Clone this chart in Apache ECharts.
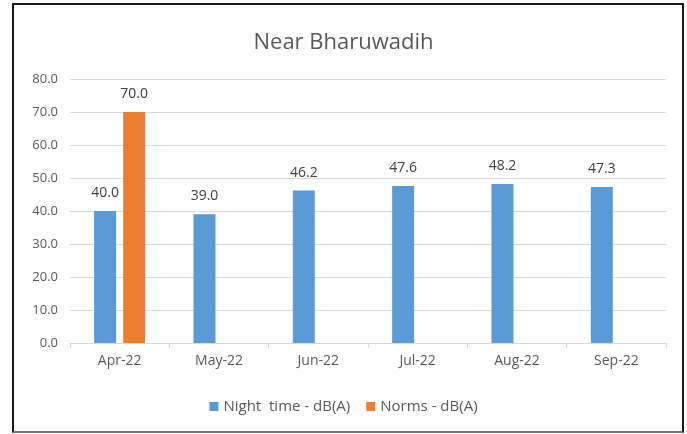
<!DOCTYPE html>
<html>
<head>
<meta charset="utf-8">
<script src="https://cdn.jsdelivr.net/npm/echarts@6/dist/echarts.min.js"></script>
<style>
    html, body { margin: 0; padding: 0; background: #fff; }
    #chart { width: 687px; height: 434px; }
    #frame {
        position: absolute; left: 12px; top: 3px; width: 672px; height: 430px;
        box-sizing: border-box; border: 2px solid #1a1a1a; border-bottom-color: #777;
        pointer-events: none;
    }
</style>
</head>
<body>
<div id="chart"></div>
<div id="frame"></div>
<script>
const months = ['Apr-22', 'May-22', 'Jun-22', 'Jul-22', 'Aug-22', 'Sep-22']
const nightTime = [40.0, 39.0, 46.2, 47.6, 48.2, 47.3]
const norms = [70.0, null, null, null, null, null]

const textColor = '#595959'
const fontFamily = 'Open Sans'

const chart = echarts.init(document.getElementById('chart'))
chart.setOption({
    animation: false,
    textStyle: { fontFamily: fontFamily },
    title: {
        text: 'Near Bharuwadih',
        left: 'center',
        top: 27,
        textStyle: { color: textColor, fontSize: 22, fontWeight: 'normal', fontFamily: fontFamily }
    },
    grid: { left: 70, right: 21, top: 79, bottom: 91 },
    legend: {
        bottom: 15,
        left: 'center',
        itemWidth: 9,
        itemHeight: 9,
        itemGap: 16,
        icon: 'rect',
        textStyle: { color: textColor, fontSize: 15, fontFamily: fontFamily },
        data: ['Night  time - dB(A)', 'Norms - dB(A)']
    },
    xAxis: {
        type: 'category',
        data: months,
        axisLine: { lineStyle: { color: '#d9d9d9', width: 1 } },
        axisTick: { show: true, length: 5, lineStyle: { color: '#d9d9d9' } },
        axisLabel: { color: textColor, fontSize: 14, margin: 11 }
    },
    yAxis: {
        type: 'value',
        min: 0,
        max: 80,
        interval: 10,
        axisLine: { show: false },
        axisTick: { show: false },
        splitLine: { lineStyle: { color: '#d9d9d9', width: 1 } },
        axisLabel: {
            color: textColor,
            fontSize: 13,
            margin: 12,
            formatter: v => v.toFixed(1)
        }
    },
    series: [{
        name: 'Night  time - dB(A)',
        type: 'bar',
        data: nightTime,
        barWidth: 22,
        barGap: '32%',
        itemStyle: { color: '#5b9bd5' },
        label: {
            show: true,
            position: 'top',
            distance: 11,
            color: '#404040',
            fontSize: 14,
            formatter: p => p.value.toFixed(1)
        }
    }, {
        name: 'Norms - dB(A)',
        type: 'bar',
        data: norms,
        barWidth: 22,
        itemStyle: { color: '#ed7d31' },
        label: {
            show: true,
            position: 'top',
            distance: 11,
            color: '#404040',
            fontSize: 14,
            formatter: p => p.value.toFixed(1)
        }
    }]
})
</script>
</body>
</html>
